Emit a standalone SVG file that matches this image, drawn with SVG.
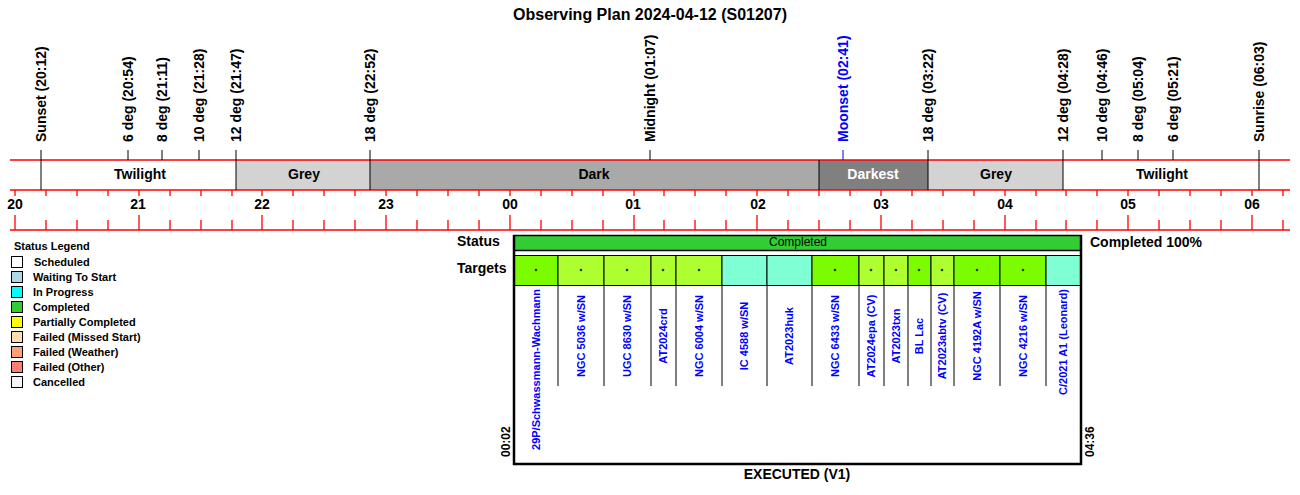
<svg xmlns="http://www.w3.org/2000/svg" width="1300" height="495" viewBox="0 0 1300 495">
<style>
text{font-family:"Liberation Sans",Arial,sans-serif;}
.b{font-weight:bold;}
.ev{font-weight:bold;font-size:14px;fill:#000;}
.band{font-weight:bold;font-size:14px;text-anchor:middle;}
.hr{font-weight:bold;font-size:14px;text-anchor:middle;}
.red{stroke:#ff0000;stroke-width:1.3;fill:none;}
.blk{stroke:#000;stroke-width:1;}
.leg{font-weight:bold;font-size:11px;}
.lb{stroke:#000;stroke-width:1;}
.tl{font-weight:bold;font-size:11px;fill:#0000ff;}
.cell{stroke:#000;stroke-width:1;}
</style>
<rect width="1300" height="495" fill="#fff"/>
<text x="650" y="20" class="b" font-size="16" text-anchor="middle">Observing Plan 2024-04-12 (S01207)</text>

<g id="bands">
<rect x="10" y="160" width="226" height="30" fill="#ffffff"/>
<rect x="236" y="160" width="134" height="30" fill="#d3d3d3"/>
<rect x="370" y="160" width="449" height="30" fill="#a9a9a9"/>
<rect x="819" y="160" width="109" height="30" fill="#808080"/>
<rect x="928" y="160" width="135" height="30" fill="#d3d3d3"/>
<rect x="1063" y="160" width="227" height="30" fill="#ffffff"/>
<text x="140" y="179" class="band">Twilight</text>
<text x="304" y="179" class="band">Grey</text>
<text x="594" y="179" class="band">Dark</text>
<text x="873" y="179" class="band" fill="#ffffff">Darkest</text>
<text x="996" y="179" class="band">Grey</text>
<text x="1162" y="179" class="band">Twilight</text>
</g>

<g id="connectors">
<line x1="10" y1="160" x2="1290" y2="160" class="red"/>
<line x1="10" y1="190" x2="1290" y2="190" class="red"/>
<line x1="10" y1="230" x2="1290" y2="230" class="red"/>
<g class="blk">
<line x1="41" y1="150" x2="41" y2="190"/>
<line x1="128" y1="150" x2="128" y2="160"/>
<line x1="162" y1="150" x2="162" y2="160"/>
<line x1="199" y1="150" x2="199" y2="160"/>
<line x1="236" y1="150" x2="236" y2="190"/>
<line x1="370" y1="150" x2="370" y2="190"/>
<line x1="650" y1="150" x2="650" y2="160"/>
<line x1="819" y1="160" x2="819" y2="190"/>
<line x1="928" y1="150" x2="928" y2="190"/>
<line x1="1063" y1="150" x2="1063" y2="190"/>
<line x1="1102" y1="150" x2="1102" y2="160"/>
<line x1="1138" y1="150" x2="1138" y2="160"/>
<line x1="1173" y1="150" x2="1173" y2="160"/>
<line x1="1259" y1="150" x2="1259" y2="190"/>
</g>
<line x1="843" y1="150" x2="843" y2="160" stroke="#0000ff" stroke-width="1"/>
<g id="ticks" class="red">
<path d="M15 190V196M46 190V196M77 190V196M108 190V196M139 190V196M170 190V196M201 190V196M232 190V196M262 190V196M293 190V196M324 190V196M355 190V196M386 190V196M417 190V196M448 190V196M479 190V196M510 190V196M541 190V196M572 190V196M603 190V196M634 190V196M664 190V196M695 190V196M726 190V196M757 190V196M788 190V196M819 190V196M850 190V196M881 190V196M912 190V196M943 190V196M974 190V196M1005 190V196M1036 190V196M1066 190V196M1097 190V196M1128 190V196M1159 190V196M1190 190V196M1221 190V196M1252 190V196M1283 190V196"/>
<path d="M15 215V230M139 215V230M262 215V230M386 215V230M510 215V230M634 215V230M757 215V230M881 215V230M1005 215V230M1128 215V230M1252 215V230"/>
<path d="M46 220V230M77 220V230M108 220V230M170 220V230M201 220V230M232 220V230M293 220V230M324 220V230M355 220V230M417 220V230M448 220V230M479 220V230M541 220V230M572 220V230M603 220V230M664 220V230M695 220V230M726 220V230M788 220V230M819 220V230M850 220V230M912 220V230M943 220V230M974 220V230M1036 220V230M1066 220V230M1097 220V230M1159 220V230M1190 220V230M1221 220V230M1283 220V230"/>
</g>
</g>

<g id="events">
<text class="ev" transform="translate(46,142) rotate(-90)">Sunset (20:12)</text>
<text class="ev" transform="translate(133,142) rotate(-90)">6 deg (20:54)</text>
<text class="ev" transform="translate(167,142) rotate(-90)">8 deg (21:11)</text>
<text class="ev" transform="translate(204,142) rotate(-90)">10 deg (21:28)</text>
<text class="ev" transform="translate(241,142) rotate(-90)">12 deg (21:47)</text>
<text class="ev" transform="translate(375,142) rotate(-90)">18 deg (22:52)</text>
<text class="ev" transform="translate(655,142) rotate(-90)">Midnight (01:07)</text>
<text class="ev" transform="translate(848,142) rotate(-90)" fill="#0000ff" style="fill:#0000ff">Moonset (02:41)</text>
<text class="ev" transform="translate(933,142) rotate(-90)">18 deg (03:22)</text>
<text class="ev" transform="translate(1068,142) rotate(-90)">12 deg (04:28)</text>
<text class="ev" transform="translate(1107,142) rotate(-90)">10 deg (04:46)</text>
<text class="ev" transform="translate(1143,142) rotate(-90)">8 deg (05:04)</text>
<text class="ev" transform="translate(1178,142) rotate(-90)">6 deg (05:21)</text>
<text class="ev" transform="translate(1264,142) rotate(-90)">Sunrise (06:03)</text>
</g>

<g id="hours">
<text x="15" y="209" class="hr">20</text>
<text x="138" y="209" class="hr">21</text>
<text x="262" y="209" class="hr">22</text>
<text x="386" y="209" class="hr">23</text>
<text x="510" y="209" class="hr">00</text>
<text x="633" y="209" class="hr">01</text>
<text x="758" y="209" class="hr">02</text>
<text x="881" y="209" class="hr">03</text>
<text x="1005" y="209" class="hr">04</text>
<text x="1128" y="209" class="hr">05</text>
<text x="1252" y="209" class="hr">06</text>
</g>

<g id="legend">
<text x="14" y="250" class="leg">Status Legend</text>
<g class="lb">
<rect x="11.5" y="256.5" width="11" height="11" fill="#ffffff"/>
<rect x="11.5" y="271.5" width="11" height="11" fill="#add8e6"/>
<rect x="11.5" y="286.5" width="11" height="11" fill="#00ffff"/>
<rect x="11.5" y="301.5" width="11" height="11" fill="#32cd32"/>
<rect x="11.5" y="316.5" width="11" height="11" fill="#ffff00"/>
<rect x="11.5" y="331.5" width="11" height="11" fill="#ffdead"/>
<rect x="11.5" y="346.5" width="11" height="11" fill="#ffa07a"/>
<rect x="11.5" y="361.5" width="11" height="11" fill="#fa8072"/>
<rect x="11.5" y="376.5" width="11" height="11" fill="#f5f5f5"/>
</g>
<text x="34" y="266" class="leg">Scheduled</text>
<text x="33" y="281" class="leg">Waiting To Start</text>
<text x="33" y="296" class="leg">In Progress</text>
<text x="33" y="311" class="leg">Completed</text>
<text x="33" y="326" class="leg">Partially Completed</text>
<text x="33" y="341" class="leg">Failed (Missed Start)</text>
<text x="33" y="356" class="leg">Failed (Weather)</text>
<text x="33" y="371" class="leg">Failed (Other)</text>
<text x="33" y="386" class="leg">Cancelled</text>
</g>

<g id="status">
<text x="457" y="246" class="b" font-size="14">Status</text>
<text x="457" y="273" class="b" font-size="14">Targets</text>
<rect x="514" y="235.5" width="567" height="15" fill="#32cd32" stroke="#000" stroke-width="1.5"/>
<text x="798" y="246" font-size="12" text-anchor="middle">Completed</text>
<text x="1090" y="247" class="b" font-size="14">Completed 100%</text>
</g>

<g id="targets">
<rect x="514" y="255.5" width="44" height="30" fill="#7cfc00" class="cell"/>
<rect x="558" y="255.5" width="46" height="30" fill="#adff2f" class="cell"/>
<rect x="604" y="255.5" width="47" height="30" fill="#adff2f" class="cell"/>
<rect x="651" y="255.5" width="25" height="30" fill="#adff2f" class="cell"/>
<rect x="676" y="255.5" width="46" height="30" fill="#adff2f" class="cell"/>
<rect x="722" y="255.5" width="45" height="30" fill="#7fffd4" class="cell"/>
<rect x="767" y="255.5" width="45" height="30" fill="#7fffd4" class="cell"/>
<rect x="812" y="255.5" width="47" height="30" fill="#7cfc00" class="cell"/>
<rect x="859" y="255.5" width="25" height="30" fill="#adff2f" class="cell"/>
<rect x="884" y="255.5" width="24" height="30" fill="#adff2f" class="cell"/>
<rect x="908" y="255.5" width="23" height="30" fill="#7cfc00" class="cell"/>
<rect x="931" y="255.5" width="23" height="30" fill="#adff2f" class="cell"/>
<rect x="954" y="255.5" width="46" height="30" fill="#7cfc00" class="cell"/>
<rect x="1000" y="255.5" width="46" height="30" fill="#7cfc00" class="cell"/>
<rect x="1046" y="255.5" width="35" height="30" fill="#7fffd4" class="cell"/>
<g fill="#333">
<circle cx="536" cy="270" r="1.3"/>
<circle cx="581" cy="270" r="1.3"/>
<circle cx="627" cy="270" r="1.3"/>
<circle cx="663" cy="270" r="1.3"/>
<circle cx="699" cy="270" r="1.3"/>
<circle cx="835" cy="270" r="1.3"/>
<circle cx="871" cy="270" r="1.3"/>
<circle cx="896" cy="270" r="1.3"/>
<circle cx="919" cy="270" r="1.3"/>
<circle cx="942" cy="270" r="1.3"/>
<circle cx="977" cy="270" r="1.3"/>
<circle cx="1023" cy="270" r="1.3"/>
</g>
<path d="M558 285V386M604 285V386M651 285V386M676 285V386M722 285V386M767 285V386M812 285V386M859 285V386M884 285V386M908 285V386M931 285V386M954 285V386M1000 285V386M1046 285V386" stroke="#000" stroke-width="1"/>
<text class="tl" text-anchor="end" transform="translate(540,289) rotate(-90)">29P/Schwassmann-Wachmann</text>
<text class="tl" text-anchor="middle" transform="translate(585,336) rotate(-90)">NGC 5036 w/SN</text>
<text class="tl" text-anchor="middle" transform="translate(631,336) rotate(-90)">UGC 8630 w/SN</text>
<text class="tl" text-anchor="middle" transform="translate(667,336) rotate(-90)">AT2024crd</text>
<text class="tl" text-anchor="middle" transform="translate(703,336) rotate(-90)">NGC 6004 w/SN</text>
<text class="tl" text-anchor="middle" transform="translate(748,336) rotate(-90)">IC 4588 w/SN</text>
<text class="tl" text-anchor="middle" transform="translate(793,336) rotate(-90)">AT2023huk</text>
<text class="tl" text-anchor="middle" transform="translate(839,336) rotate(-90)">NGC 6433 w/SN</text>
<text class="tl" text-anchor="middle" transform="translate(875,336) rotate(-90)">AT2024epa (CV)</text>
<text class="tl" text-anchor="middle" transform="translate(900,336) rotate(-90)">AT2023txn</text>
<text class="tl" text-anchor="middle" transform="translate(923,336) rotate(-90)">BL Lac</text>
<text class="tl" text-anchor="middle" transform="translate(946,336) rotate(-90)">AT2023abtv (CV)</text>
<text class="tl" text-anchor="middle" transform="translate(981,336) rotate(-90)">NGC 4192A w/SN</text>
<text class="tl" text-anchor="middle" transform="translate(1027,336) rotate(-90)">NGC 4216 w/SN</text>
<text class="tl" text-anchor="end" transform="translate(1067,289) rotate(-90)">C/2021 A1 (Leonard)</text>
</g>

<g id="frame">
<path d="M514 235V464H1081V235" fill="none" stroke="#000" stroke-width="2.5"/>
<text class="b" font-size="12" transform="translate(510,457) rotate(-90)">00:02</text>
<text class="b" font-size="12" transform="translate(1094,457) rotate(-90)">04:36</text>
<text x="797" y="479" class="b" font-size="14" text-anchor="middle">EXECUTED (V1)</text>
</g>
</svg>
